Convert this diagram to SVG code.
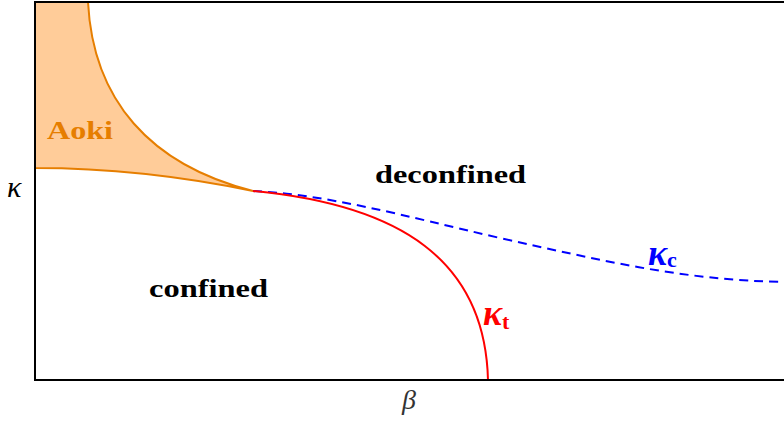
<svg xmlns="http://www.w3.org/2000/svg" width="784" height="421" viewBox="0 0 784 421">
<style>
.lbl{font-family:"Liberation Serif","DejaVu Serif",serif;font-weight:bold;font-size:26px;fill:#000}
.ax{font-family:"Liberation Serif","DejaVu Serif",serif;font-style:italic;font-size:28px;fill:#333}
.sym{font-family:"Liberation Serif","DejaVu Serif",serif;font-style:italic;font-weight:bold;font-size:36px}
.sub{font-family:"Liberation Serif","DejaVu Serif",serif;font-weight:bold;font-size:22px}
</style>
<rect width="784" height="421" fill="#fff"/>
<g id="aoki">
<path d="M35 2 L88 2 C93 100 150 165 253 191 C200 180 120 168 35 168 Z" fill="#ffcc99" stroke="#e67e00" stroke-width="2"/>
<text class="lbl" x="47" y="139" style="fill:#e67e00" textLength="66" lengthAdjust="spacingAndGlyphs">Aoki</text>
</g>
<g id="connectors" fill="none" stroke-width="2">
<path id="kappa-c-line" d="M253 191 C330 195 400 215 500 238 C600 260 680 280 784 282" stroke="#0000ff" stroke-dasharray="9 6"/>
<path id="kappa-t-line" d="M253 191 C400 205 485 260 488 380" stroke="#ff0000"/>
</g>
<g id="axes">
<path d="M784 2 L35 2 L35 380 L784 380" fill="none" stroke="#000" stroke-width="2"/>
<text class="ax" x="7" y="197" style="font-size:30px;fill:#000">κ</text>
<text class="ax" x="402" y="409">β</text>
</g>
<g id="deconfined"><text class="lbl" x="375" y="183" textLength="151" lengthAdjust="spacingAndGlyphs">deconfined</text></g>
<g id="confined"><text class="lbl" x="149" y="297" textLength="119" lengthAdjust="spacingAndGlyphs">confined</text></g>
<g id="kappa-c"><text x="648" y="265" fill="#0000ff"><tspan class="sym">κ</tspan><tspan class="sub" dy="2">c</tspan></text></g>
<g id="kappa-t"><text x="483" y="325" fill="#ff0000"><tspan class="sym">κ</tspan><tspan class="sub" dy="4">t</tspan></text></g>
</svg>
